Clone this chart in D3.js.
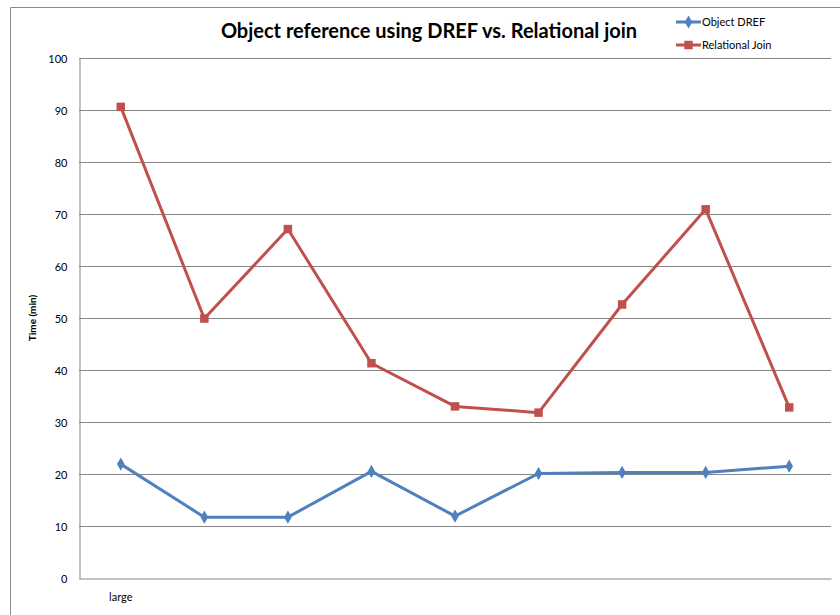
<!DOCTYPE html>
<html>
<head>
<meta charset="utf-8">
<script src="https://cdn.jsdelivr.net/npm/d3@7"></script>
<style>
  html, body { margin: 0; padding: 0; background: #fff; }
  svg { display: block; }
  text { font-family: Lato, "Open Sans", sans-serif; fill: #000; }
</style>
</head>
<body>
<script>
// Run sizes, timed in minutes
const categories = ["large", "", "", "", "", "", "", "", ""];
const objectDref = [21.9, 11.7, 11.7, 20.5, 11.9, 20.1, 20.3, 20.3, 21.5];
const relationalJoin = [90.6, 49.9, 67.1, 41.3, 33.0, 31.8, 52.6, 70.9, 32.8];
const yTicks = [0, 10, 20, 30, 40, 50, 60, 70, 80, 90, 100];
const seriesNames = ["Object DREF", "Relational Join"];

const W = 840, H = 615;
const plot = { left: 79, right: 831, top: 58, bottom: 578 };

const svg = d3.select("body").append("svg")
  .attr("width", W).attr("height", H);

// outer chart frame (clipped at right and bottom)
svg.append("path")
  .attr("d", `M10.5,${H} V7.5 H${W}`)
  .attr("fill", "none").attr("stroke", "#8c8c8c").attr("stroke-width", 1);

const x = d3.scaleBand()
  .domain(d3.range(categories.length))
  .range([plot.left, plot.right]);

const y = d3.scaleLinear()
  .domain([0, 100])
  .range([plot.bottom, plot.top]);

// horizontal gridlines
svg.append("g")
  .selectAll("line")
  .data(yTicks.filter(t => t > 0))
  .join("line")
  .attr("x1", plot.left).attr("x2", plot.right)
  .attr("y1", d => Math.round(y(d)) + 0.5).attr("y2", d => Math.round(y(d)) + 0.5)
  .attr("stroke", "#868686").attr("stroke-width", 1);

// y axis
const yAxis = svg.append("g")
  .attr("transform", `translate(${plot.left + 0.5},0.5)`)
  .call(d3.axisLeft(y).tickValues(yTicks).tickSize(0).tickPadding(12));
yAxis.select(".domain").attr("stroke", "#868686");
yAxis.selectAll("text").attr("font-size", 11).attr("fill", "#000")
  .style("font-family", "Lato, 'Open Sans', sans-serif");

// x axis
const xAxis = svg.append("g")
  .attr("transform", `translate(0,${plot.bottom + 0.5})`)
  .call(d3.axisBottom(x).tickFormat(i => categories[i]).tickSize(0).tickPadding(15));
xAxis.select(".domain").attr("stroke", "#868686");
xAxis.selectAll("text").attr("font-size", 11).attr("fill", "#000")
  .style("font-family", "Lato, 'Open Sans', sans-serif");

// y axis title
svg.append("text")
  .attr("transform", `translate(36,${(plot.top + plot.bottom) / 2}) rotate(-90)`)
  .attr("text-anchor", "middle")
  .attr("font-size", 10).attr("font-weight", "bold")
  .text("Time (min)");

// chart title
svg.append("text")
  .attr("x", 429).attr("y", 38)
  .attr("text-anchor", "middle")
  .attr("font-size", 20).attr("font-weight", "bold")
  .text("Object reference using DREF vs. Relational join");

const series = [
  { name: seriesNames[0], values: objectDref, color: "#4f81bd", marker: d3.symbolDiamond, size: 50 },
  { name: seriesNames[1], values: relationalJoin, color: "#c0504d", marker: d3.symbolSquare, size: 72 }
];

const line = d3.line()
  .x((d, i) => x(i) + x.bandwidth() / 2)
  .y(d => y(d));

series.forEach(s => {
  svg.append("path")
    .datum(s.values)
    .attr("d", line)
    .attr("fill", "none")
    .attr("stroke", s.color)
    .attr("stroke-width", 3)
    .attr("stroke-linejoin", "round");

  svg.append("g")
    .selectAll("path")
    .data(s.values)
    .join("path")
    .attr("transform", (d, i) => `translate(${x(i) + x.bandwidth() / 2},${y(d)})`)
    .attr("d", d3.symbol().type(s.marker).size(s.size))
    .attr("fill", s.color);
});

// legend
const legend = svg.append("g").attr("transform", "translate(676,0)");
series.forEach((s, i) => {
  const ly = 22 + i * 23;
  legend.append("line")
    .attr("x1", 0).attr("x2", 25).attr("y1", ly).attr("y2", ly)
    .attr("stroke", s.color).attr("stroke-width", 3);
  legend.append("path")
    .attr("transform", `translate(12.5,${ly})`)
    .attr("d", d3.symbol().type(s.marker).size(s.size))
    .attr("fill", s.color);
  legend.append("text")
    .attr("x", 26).attr("y", ly + 4)
    .attr("font-size", 11)
    .text(s.name);
});
</script>
</body>
</html>
